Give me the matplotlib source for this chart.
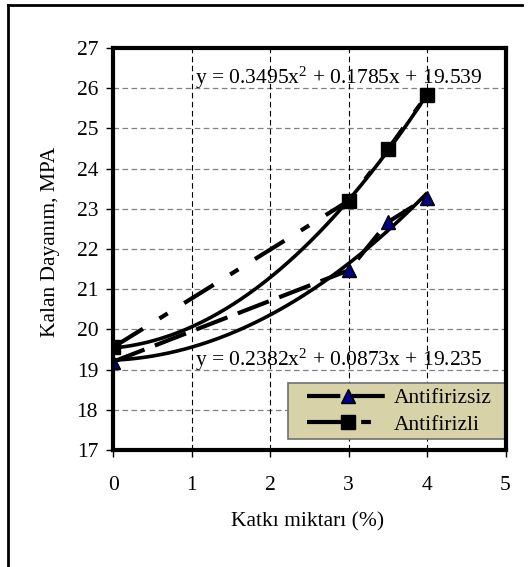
import matplotlib
matplotlib.use("Agg")
import matplotlib.pyplot as plt
import numpy as np
from matplotlib.lines import Line2D
from matplotlib.patches import Rectangle

plt.rcParams['font.family'] = ['Liberation Serif', 'DejaVu Serif']
plt.rcParams['mathtext.fontset'] = 'custom'
plt.rcParams['mathtext.rm'] = 'Liberation Serif'
plt.rcParams['mathtext.it'] = 'Liberation Serif:italic'
plt.rcParams['lines.scale_dashes'] = False

# Data
x_antifirizsiz = [0, 3, 3.5, 4]
y_antifirizsiz = [19.2, 21.47, 22.67, 23.28]
x_antifirizli = [0, 3, 3.5, 4]
y_antifirizli = [19.56, 23.2, 24.48, 25.84]
coef_antifirizsiz = [0.2382, 0.0873, 19.235]
coef_antifirizli = [0.3495, 0.1785, 19.539]
eq_antifirizsiz = r'y = 0.2382x$^2$ + 0.0873x + 19.235'
eq_antifirizli = r'y = 0.3495x$^2$ + 0.1785x + 19.539'
series_names = ['Antifirizsiz', 'Antifirizli']
xticks = [0, 1, 2, 3, 4, 5]
yticks = [17, 18, 19, 20, 21, 22, 23, 24, 25, 26, 27]

FS = 15.5

fig = plt.figure(figsize=(5.31, 5.67), dpi=100)
ax = fig.add_axes([0.2136, 0.2063, 0.952 - 0.2136, 0.9153 - 0.2063])

# outer frame (top and left edges visible)
fig.add_artist(Line2D([8/531, 522/531], [1 - 5/567, 1 - 5/567], transform=fig.transFigure, color='black', lw=2))
fig.add_artist(Line2D([8/531, 8/531], [1 - 5/567, 0], transform=fig.transFigure, color='black', lw=2))

ax.set_xlim(0, 5)
ax.set_ylim(17, 27)
ax.set_xticks(xticks)
ax.set_yticks(yticks)

# grid
for yv in yticks[1:-1]:
    ax.axhline(yv, color='#808080', lw=0.9, dashes=(4, 2.5), zorder=1)
for xv in xticks[1:-1]:
    ax.axvline(xv, color='black', lw=0.8, dashes=(4, 2.5), zorder=1)

# trend lines
xs = np.linspace(0, 4, 200)
ax.plot(xs, np.polyval(coef_antifirizsiz, xs), color='black', lw=2.6, zorder=3, solid_capstyle='butt')
ax.plot(xs, np.polyval(coef_antifirizli, xs), color='black', lw=2.6, zorder=3, solid_capstyle='butt')

# series
l1, = ax.plot(x_antifirizsiz, y_antifirizsiz, color='black', lw=3, dashes=(24, 8),
              dash_capstyle='butt', marker='^', markersize=10, markerfacecolor='#000080',
              markeredgecolor='black', markeredgewidth=1, zorder=4, label=series_names[0])
l2, = ax.plot(x_antifirizli, y_antifirizli, color='black', lw=3, dashes=(25, 14, 7, 14),
              dash_capstyle='butt', marker='s', markersize=10, markerfacecolor='black',
              markeredgecolor='black', zorder=4, label=series_names[1])

ax.text(1.04, 26.26, eq_antifirizli, fontsize=FS, va='center', ha='left', zorder=5)
ax.text(1.04, 19.24, eq_antifirizsiz, fontsize=FS, va='center', ha='left', zorder=5)

for s in ax.spines.values():
    s.set_linewidth(3)
    s.set_zorder(8)
ax.tick_params(direction='out', length=5, width=1, labelsize=FS)
ax.tick_params(axis='x', pad=14)
ax.tick_params(axis='y', pad=6)

ax.set_xlabel('Katkı miktarı (%)', fontsize=FS)
ax.set_ylabel('Kalan Dayanım, MPA', fontsize=FS)
ax.xaxis.set_label_coords(0.496, -0.155)
ax.yaxis.set_label_coords(-0.135, 0.517)

# legend box
ax_w = 392.2
ax_h = 402.0
box = Rectangle(((288 - 113.4) / ax_w, (450 - 438.6) / ax_h), 1 - (288 - 113.4) / ax_w,
                (438.6 - 382.6) / ax_h, transform=ax.transAxes, facecolor='#D8D2A8',
                edgecolor='#707070', lw=1.2, zorder=6, clip_on=False)
ax.add_patch(box)

leg = ax.legend(handles=[l1, l2], loc='center left',
                bbox_to_anchor=((307 - 113.4) / ax_w, (450 - 411.4) / ax_h),
                borderaxespad=0, borderpad=0, fontsize=FS, frameon=False,
                handlelength=3.77, numpoints=1, labelspacing=0.28,
                handletextpad=0.25)
leg.set_zorder(7)

fig.savefig('out.png', dpi=100)
